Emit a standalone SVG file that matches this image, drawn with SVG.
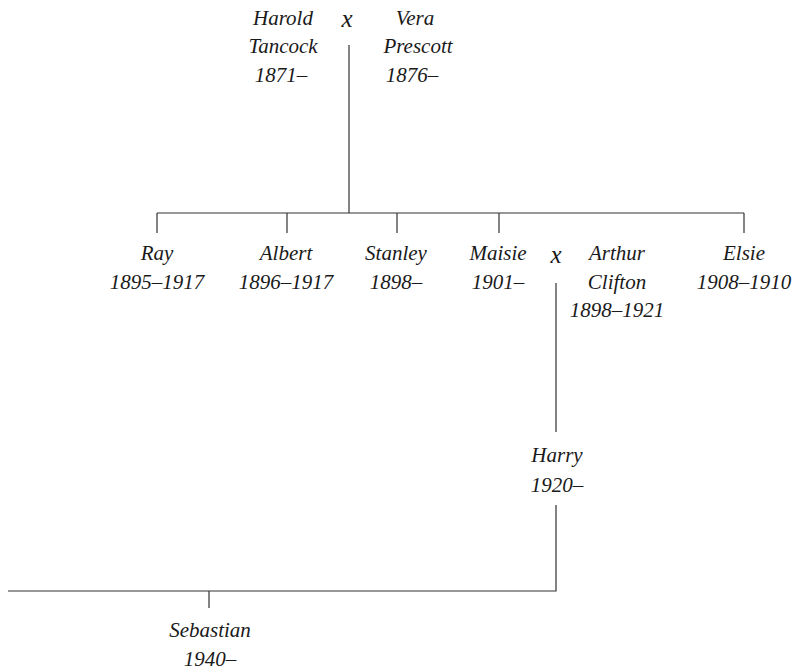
<svg xmlns="http://www.w3.org/2000/svg" width="798" height="672" viewBox="0 0 798 672">
<style>
text{font-family:"Liberation Serif","DejaVu Serif",serif;font-style:italic;font-size:21px;fill:#1a1a1a;text-anchor:middle}
.x{font-size:25px}
.ln{stroke:#333;stroke-width:1.2;fill:none}
</style>
<rect width="798" height="672" fill="#fff"/>
<g id="connectors" class="ln">
<path d="M349,45V213M157,213H744M157,213V233M287,213V233M397,213V233M499,213V233M744,213V233"/>
<path d="M556,283V432M556,505V591H8M209,591V608"/>
</g>
<g id="harold"><text x="283" y="25">Harold</text><text x="283" y="53">Tancock</text><text x="281" y="82">1871–</text></g>
<g id="marriage1"><text class="x" x="347" y="27">x</text></g>
<g id="vera"><text x="415" y="25">Vera</text><text x="418" y="53">Prescott</text><text x="412" y="82">1876–</text></g>
<g id="ray"><text x="157" y="260">Ray</text><text x="157" y="289">1895–1917</text></g>
<g id="albert"><text x="286" y="260">Albert</text><text x="286" y="289">1896–1917</text></g>
<g id="stanley"><text x="396" y="260">Stanley</text><text x="396" y="289">1898–</text></g>
<g id="maisie"><text x="498" y="260">Maisie</text><text x="498" y="289">1901–</text></g>
<g id="marriage2"><text class="x" x="556" y="263">x</text></g>
<g id="arthur"><text x="617" y="260">Arthur</text><text x="617" y="289">Clifton</text><text x="617" y="317">1898–1921</text></g>
<g id="elsie"><text x="744" y="260">Elsie</text><text x="744" y="289">1908–1910</text></g>
<g id="harry"><text x="557" y="462">Harry</text><text x="557" y="492">1920–</text></g>
<g id="sebastian"><text x="210" y="637">Sebastian</text><text x="210" y="666">1940–</text></g>
</svg>
